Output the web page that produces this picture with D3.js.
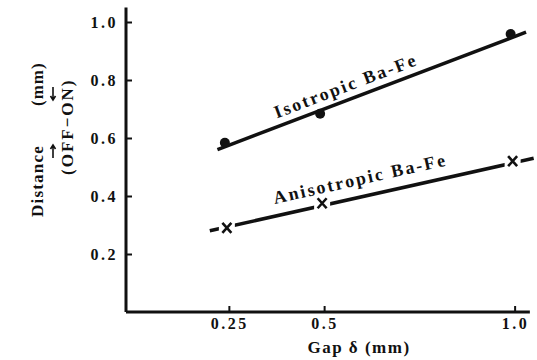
<!DOCTYPE html>
<html>
<head>
<meta charset="utf-8">
<script src="https://cdn.jsdelivr.net/npm/d3@7"></script>
<style>
  body { margin: 0; background: #fff; }
  svg text { font-family: "Liberation Serif", "Times New Roman", serif; fill: #111; font-weight: bold; }
</style>
</head>
<body>
<svg id="chart" width="537" height="360"></svg>
<script>
// gap values (mm)
const gaps = [0.25, 0.5, 1.0];
const isoValues = [0.58, 0.68, 0.955];
const anisoValues = [0.29, 0.375, 0.52];
// fitted straight lines (end points)
const isoFitX = [0.22, 1.03];
const isoFitY = [0.56, 0.965];
const anisoFitX = [0.2, 1.05];
const anisoFitY = [0.28, 0.53];
const xTicks = [0.25, 0.5, 1.0];
const xTickLabels = ["0.25", "0.5", "1.0"];
const yTicks = [0.2, 0.4, 0.6, 0.8, 1.0];
const yTickLabels = ["0.2", "0.4", "0.6", "0.8", "1.0"];

const svg = d3.select('#chart');
const x0 = 126, y0 = 312;
const x = d3.scaleLinear().domain([-0.02, 1.04]).range([x0, x0 + 381 * 1.06]);
const y = d3.scaleLinear().domain([0, 1.05]).range([y0, y0 - 290 * 1.05]);

// axes
let xAxis = svg.append('g')
  .attr('transform', 'translate(0,' + y0 + ')')
  .call(d3.axisTop(x).tickValues(xTicks).tickSize(6).tickFormat(''));
xAxis.select('.domain').attr('d', 'M' + x0 + ',0H' + x.range()[1]);
xAxis.selectAll('.tick line').attr('stroke-width', 2);
xAxis.selectAll('.text-l').data(xTicks).enter().append('text')
  .attr('x', d => x(d) + 1).attr('y', 17)
  .attr('text-anchor', 'middle')
  .attr('font-size', 16).attr('letter-spacing', 2.5)
  .text((d, i) => xTickLabels[i]);

let yAxis = svg.append('g')
  .attr('transform', 'translate(' + x0 + ',0)')
  .call(d3.axisRight(y).tickValues(yTicks).tickSize(6).tickFormat(''));
yAxis.select('.domain').attr('d', 'M0,' + y.range()[1] + 'V' + y0);
yAxis.selectAll('.tick line').attr('stroke-width', 2);
yAxis.selectAll('.text-l').data(yTicks).enter().append('text')
  .attr('x', -8).attr('y', d => y(d) + 6)
  .attr('text-anchor', 'end')
  .attr('font-size', 16).attr('letter-spacing', 2.5)
  .text((d, i) => yTickLabels[i]);

svg.selectAll('.domain').attr('stroke', '#111').attr('stroke-width', 3);
svg.selectAll('.tick line').attr('stroke', '#111');

// axis titles
svg.append('text')
  .attr('x', 359).attr('y', 353)
  .attr('text-anchor', 'middle')
  .attr('font-size', 17).attr('letter-spacing', 1.5)
  .text('Gap δ (mm)');

let yt = svg.append('g').attr('transform', 'rotate(-90)');
yt.append('text').attr('x', -217).attr('y', 43).attr('font-size', 17).attr('letter-spacing', 1.2).text('Distance');
yt.append('text').attr('x', -106).attr('y', 43).attr('font-size', 17).attr('letter-spacing', 1).text('(mm)');
yt.append('text').attr('x', -175).attr('y', 73).attr('font-size', 17).attr('letter-spacing', 2).text('(OFF−ON)');

// small arrows over OFF and ON
const arrows = [[53, 158, 145], [53, 87, 100]];
arrows.forEach(a => {
  const dir = Math.sign(a[2] - a[1]);
  svg.append('path')
    .attr('d', 'M' + a[0] + ',' + a[1] + 'V' + a[2] +
      'M' + (a[0] - 2.5) + ',' + (a[2] - dir * 4) + 'L' + a[0] + ',' + a[2] + 'L' + (a[0] + 2.5) + ',' + (a[2] - dir * 4))
    .attr('stroke', '#111').attr('stroke-width', 1.6).attr('fill', 'none');
});

// fitted lines
const line = d3.line().x(d => x(d[0])).y(d => y(d[1]));
svg.append('path').datum(d3.zip(isoFitX, isoFitY))
  .attr('d', line).attr('fill', 'none').attr('stroke', '#111').attr('stroke-width', 3.5);
svg.append('path').datum(d3.zip(anisoFitX, anisoFitY))
  .attr('d', line).attr('fill', 'none').attr('stroke', '#111').attr('stroke-width', 3.5);

// markers
svg.selectAll('.iso').data(d3.zip(gaps, isoValues)).enter().append('circle')
  .attr('class', 'iso')
  .attr('cx', d => x(d[0]) - 4).attr('cy', d => y(d[1]) - 1)
  .attr('r', 5).attr('fill', '#111');

let cross = svg.selectAll('.aniso').data(d3.zip(gaps, anisoValues)).enter().append('g')
  .attr('class', 'aniso')
  .attr('transform', d => 'translate(' + (x(d[0]) - 2) + ',' + y(d[1]) + ')');
cross.append('rect').attr('x', -8).attr('y', -7).attr('width', 16).attr('height', 14).attr('fill', '#fff');
cross.append('path').attr('d', 'M-4.5,-5L4.5,5M-4.5,5L4.5,-5')
  .attr('stroke', '#111').attr('stroke-width', 2.6).attr('fill', 'none');

// curve labels, rotated along their line
function lineLabel(fx, fy, at, offset, label) {
  const px1 = x(fx[0]), py1 = y(fy[0]), px2 = x(fx[1]), py2 = y(fy[1]);
  const ang = Math.atan2(py2 - py1, px2 - px1) * 180 / Math.PI;
  const t = (at - fx[0]) / (fx[1] - fx[0]);
  const cx = px1 + t * (px2 - px1), cy = py1 + t * (py2 - py1);
  svg.append('text')
    .attr('transform', 'translate(' + cx + ',' + cy + ') rotate(' + ang + ')')
    .attr('x', 0).attr('y', -offset)
    .attr('text-anchor', 'middle')
    .attr('font-size', 18).attr('letter-spacing', 2.2)
    .text(label);
}
lineLabel(isoFitX, isoFitY, 0.57, 8, 'Isotropic  Ba-Fe');
lineLabel(anisoFitX, anisoFitY, 0.605, 12, 'Anisotropic  Ba-Fe');
</script>
</body>
</html>
